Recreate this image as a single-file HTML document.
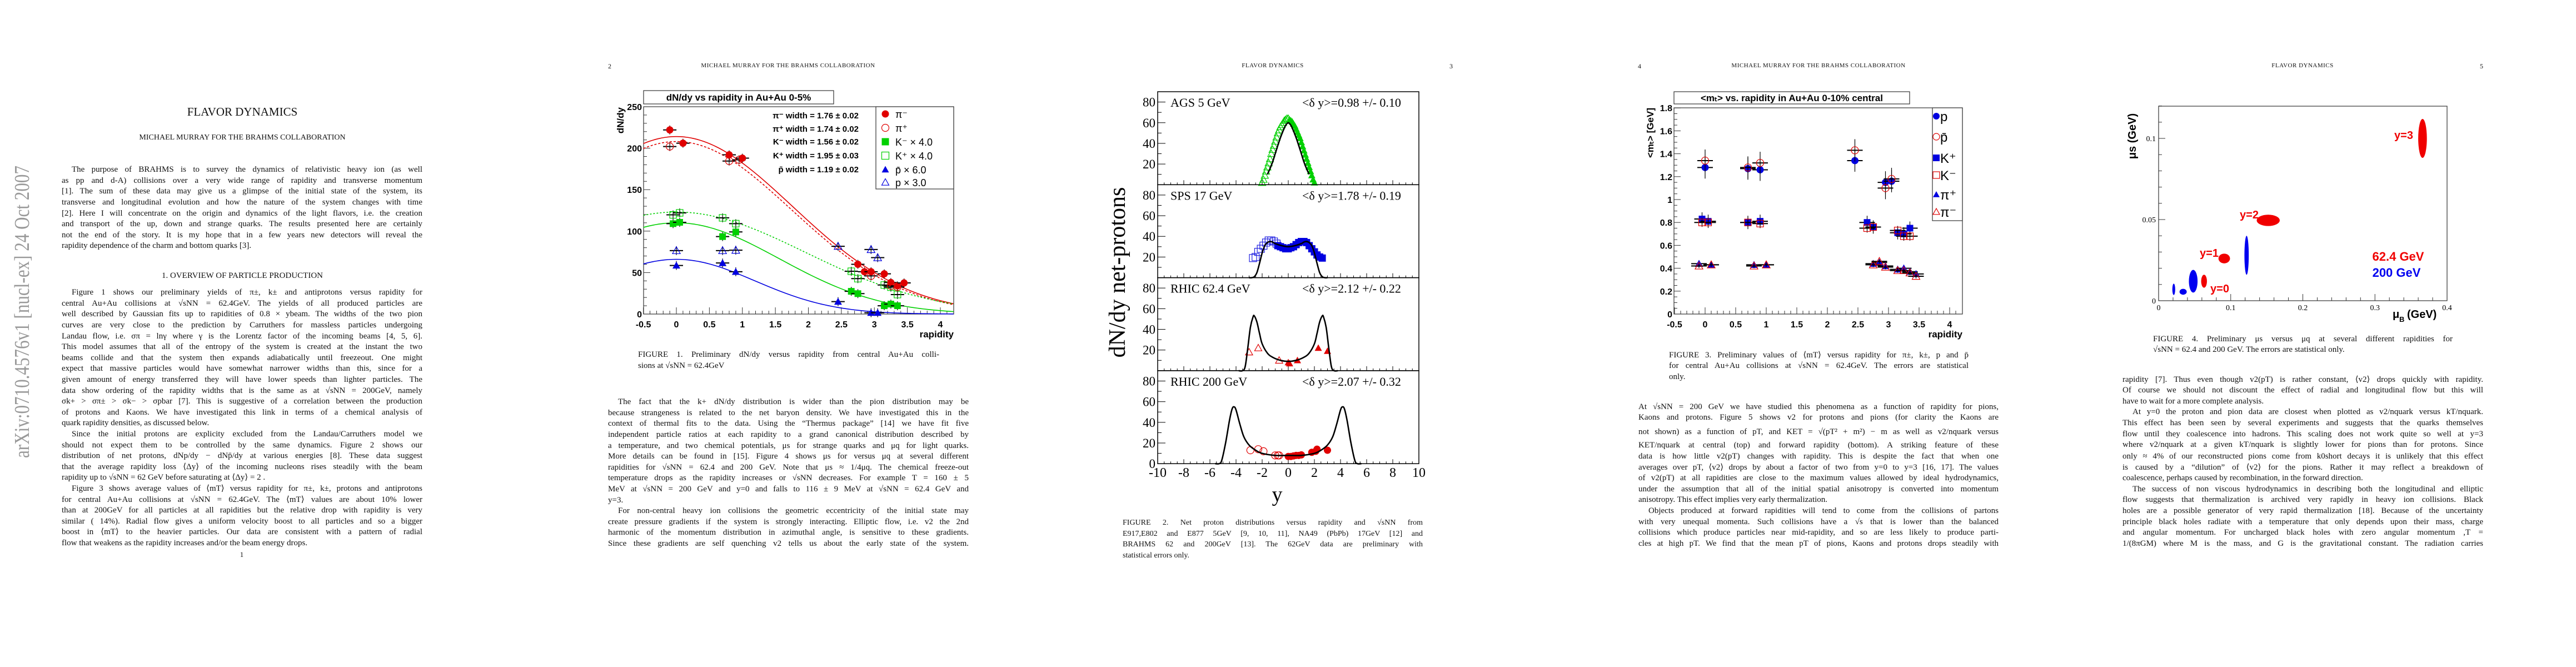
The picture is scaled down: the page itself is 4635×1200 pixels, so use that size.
<!DOCTYPE html>
<html><head><meta charset="utf-8">
<style>
html,body{margin:0;padding:0;background:#fff;}
body{width:4635px;height:1200px;position:relative;overflow:hidden;font-family:"Liberation Serif",serif;color:#111;}
.ln{position:absolute;height:19.6px;line-height:19.6px;font-size:15px;white-space:nowrap;text-align:justify;text-align-last:justify;}
.ln.last{text-align-last:left;}
.hd{position:absolute;font-size:11px;letter-spacing:0.5px;transform:translateX(-50%);white-space:nowrap;}
svg text:not([font-family]){font-family:"Liberation Sans",sans-serif;}
</style></head>
<body>
<svg id="sv" width="4635" height="1200" style="position:absolute;left:0;top:0" xmlns="http://www.w3.org/2000/svg"></svg>
<div id="tx"></div>
<script>
// ================= DATA =================
// Figure 1: dN/dy vs rapidity
const f1PiMinusX=[-0.1,0.1,0.8,1.0,2.75,2.85,2.95,3.15,3.25,3.35,3.45];
const f1PiMinusY=[222,206,192,188,60,51,51,48.5,38,34,37.5];
const f1PiPlusX=[-0.1,0.8,0.95,2.95,3.25,3.35];
const f1PiPlusY=[202,184.5,186,46,34,32.5];
const f1KMinusX=[-0.05,0.05,0.7,0.9,2.65,2.75,3.15,3.25,3.35];
const f1KMinusY=[109,110.6,93.4,99,27.4,24.6,10,12,10];
const f1KPlusX=[-0.05,0.05,0.7,0.9,2.65,2.75,3.15,3.25,3.35];
const f1KPlusY=[119.6,122,116,109,51.6,42.7,35,32.4,23.5];
const f1PbarX=[0,0.7,0.9,2.45,2.95,3.05];
const f1PbarY=[58.6,61.6,51,15,1.6,1.6];
const f1PX=[0,0.7,0.9,2.45,2.95,3.05];
const f1PY=[76.5,76.5,77,81.7,77.8,68];
const f1FitAmp=[214,208,110,123,66];
const f1FitWidth=[1.76,1.74,1.56,1.95,1.19];
const f1YTicks=[0,50,100,150,200,250];
const f1XTicks=[-0.5,0,0.5,1,1.5,2,2.5,3,3.5,4];
const f1XTickLabels=["-0.5","0","0.5","1","1.5","2","2.5","3","3.5","4"];
const f1WidthLabels=["π⁻ width = 1.76 ± 0.02","π⁺ width = 1.74 ± 0.02","K⁻ width = 1.56 ± 0.02","K⁺ width = 1.95 ± 0.03","p̄ width = 1.19 ± 0.02"];
// Figure 2: net protons
const f2Panels=["AGS 5 GeV","SPS 17 GeV","RHIC 62.4 GeV","RHIC 200 GeV"];
const f2DeltaY=["<δ y>=0.98 +/- 0.10","<δ y>=1.78 +/- 0.19","<δ y>=2.12 +/- 0.22","<δ y>=2.07 +/- 0.32"];
const f2AgsOpenX=[-2.0,-1.9,-1.8,-1.7,-1.6,-1.5,-1.4,-1.3,-1.2,-1.1,-1.0,-0.9,-0.8,-0.7,-0.6,-0.5,-0.4,-0.3,-0.2,-0.1,0];
const f2AgsOpenY=[2,5,9,13,17,21,25,30,34,38,42,46,50,53,56,58,60,62,63,64,64];
const f2AgsFillX=[0.1,0.2,0.3,0.4,0.5,0.6,0.7,0.8,0.9,1.0,1.1,1.2,1.3,1.4,1.5,1.6,1.7,1.8,1.9,2.0];
const f2AgsFillY=[63,62,61,59,57,54,51,48,45,41,37,33,29,25,21,17,13,9,5,2];
const f2AgsFitX=[-1.6,-1.4,-1.2,-1,-0.8,-0.6,-0.4,-0.2,0,0.2,0.4,0.6,0.8,1,1.2,1.4,1.6];
const f2AgsFitY=[10,15.5,22,30,38,45.5,52,57.5,60,57.5,52,45.5,38,30,22,15.5,10];
const f2SpsOpenX=[-2.7,-2.5,-2.3,-2.1,-1.9,-1.7,-1.5,-1.3,-1.1,-0.9];
const f2SpsOpenY=[19,20,25,28,31,34,36,36,35,33];
const f2SpsFillX=[-0.8,-0.6,-0.4,-0.2,0,0.2,0.4,0.6,0.8,1.0,1.2,1.4,1.6,1.8,2.0,2.2,2.4,2.6];
const f2SpsFillY=[31,30,29,28,28,29,30,32,34,35,35,34,31,28,25,22,20,19];
const f2SpsFitX=[-3,-2.8,-2.6,-2.4,-2.2,-2,-1.8,-1.6,-1.4,-1.2,-1,-0.5,0,0.5,1,1.2,1.4,1.6,1.8,2,2.2,2.4,2.6,2.8,3];
const f2SpsFitY=[0,0,1,5,14,24,31,34,35,34.5,33,31,30,31,33,34.5,35,34,31,24,14,5,1,0,0];
const f2R62OpenX=[-3.0,-2.3,-0.7];
const f2R62OpenY=[18,22,10];
const f2R62FillX=[0,0.1,0.7,2.3,3.0];
const f2R62FillY=[8,7,10,22,19];
const f2R62FitX=[-3.8,-3.5,-3.3,-3.1,-2.9,-2.7,-2.6,-2.4,-2.2,-2,-1.6,-1.2,-0.6,0,0.6,1.2,1.6,2,2.2,2.4,2.6,2.7,2.9,3.1,3.3,3.5,3.8];
const f2R62FitY=[0,0,4,22,42,52,53,47,36,26,17,13,10,9,10,13,17,26,36,47,53,52,42,22,4,0,0];
const f2R200OpenX=[-2.9,-2.3,-1.9,-1.0,-0.8,-0.7];
const f2R200OpenY=[13,14,12,8,8,8];
const f2R200FillX=[0,0.2,0.4,0.6,0.8,1.0,1.8,2.1,2.2,3.0];
const f2R200FillY=[7,7,7.5,8,8,8.5,11,12,14,13];
const f2R200FitX=[-5.6,-5.3,-5.1,-4.8,-4.5,-4.3,-4.15,-4,-3.7,-3.4,-3,-2.5,-2,-1,0,1,2,2.5,3,3.4,3.7,4,4.15,4.3,4.5,4.8,5.1,5.3,5.6];
const f2R200FitY=[0,0,3,20,42,53,55,52,38,26,18,13,10,8,8,8,10,13,18,26,38,52,55,53,42,20,3,0,0];
const f2YTicks=[20,40,60,80];
const f2XTicks=[-10,-8,-6,-4,-2,0,2,4,6,8,10];
// Figure 3: <mt> vs rapidity
const f3PX=[0,0.7,0.9,2.45,2.95,3.05];
const f3PY=[1.28,1.27,1.26,1.34,1.15,1.16];
const f3PbarX=[0,0.7,0.9,2.45,2.95,3.05];
const f3PbarY=[1.34,1.28,1.32,1.43,1.10,1.18];
const f3KPlusX=[-0.05,0.05,0.7,0.9,2.65,2.75,3.15,3.25,3.35];
const f3KPlusY=[0.83,0.81,0.80,0.81,0.80,0.76,0.71,0.70,0.75];
const f3KMinusX=[-0.05,0.05,0.7,0.9,2.65,2.75,3.15,3.25,3.35];
const f3KMinusY=[0.80,0.80,0.80,0.79,0.75,0.76,0.73,0.68,0.68];
const f3PiPlusX=[-0.1,0.1,0.8,1.0,2.75,2.85,2.95,3.15,3.25,3.35,3.45];
const f3PiPlusY=[0.44,0.43,0.43,0.43,0.44,0.45,0.42,0.39,0.40,0.37,0.35];
const f3PiMinusX=[-0.1,0.1,0.8,1.0,2.75,2.85,2.95,3.15,3.25,3.35,3.45];
const f3PiMinusY=[0.42,0.43,0.42,0.43,0.43,0.46,0.41,0.38,0.38,0.36,0.33];
const f3YTicks=[0,0.2,0.4,0.6,0.8,1,1.2,1.4,1.6,1.8];
const f3YTickLabels=["0","0.2","0.4","0.6","0.8","1","1.2","1.4","1.6","1.8"];
// Figure 4: mu_s vs mu_B ellipses
const f4RedCx=[0.366,0.152,0.091,0.063];
const f4RedCy=[0.100,0.0495,0.026,0.012];
const f4RedRx=[0.006,0.016,0.008,0.004];
const f4RedRy=[0.012,0.0035,0.003,0.004];
const f4BlueCx=[0.122,0.048,0.034,0.021];
const f4BlueCy=[0.028,0.012,0.0055,0.007];
const f4BlueRx=[0.003,0.006,0.005,0.002];
const f4BlueRy=[0.012,0.007,0.0018,0.0035];
const f4XTicks=[0,0.1,0.2,0.3,0.4];
const f4YTicks=[0,0.05,0.1];
const f4YTickLabels=["0","0.05","0.1"];

// ================= HELPERS =================
const NS="http://www.w3.org/2000/svg";
const sv=document.getElementById('sv');
function mk(tag,attrs,parent){const e=document.createElementNS(NS,tag);for(const k in attrs)e.setAttribute(k,attrs[k]);(parent||sv).appendChild(e);return e;}
function txt(s,x,y,attrs,parent){const e=mk('text',Object.assign({x:x,y:y},attrs||{}),parent);e.textContent=s;return e;}
function grp(parent){return mk('g',{},parent);}
function smoothPath(pts){let d="M"+pts[0][0]+","+pts[0][1];for(let i=0;i<pts.length-1;i++){const p0=pts[Math.max(0,i-1)],p1=pts[i],p2=pts[i+1],p3=pts[Math.min(pts.length-1,i+2)];const c1=[p1[0]+(p2[0]-p0[0])/6,p1[1]+(p2[1]-p0[1])/6],c2=[p2[0]-(p3[0]-p1[0])/6,p2[1]-(p3[1]-p1[1])/6];d+=" C"+c1[0]+","+c1[1]+" "+c2[0]+","+c2[1]+" "+p2[0]+","+p2[1];}return d;}
function marker(g,type,x,y,col,s){
  let e;
  if(type==='fc')e=mk('circle',{cx:x,cy:y,r:s,fill:col},g);
  else if(type==='oc')e=mk('circle',{cx:x,cy:y,r:s,fill:'none',stroke:col,'stroke-width':1.2},g);
  else if(type==='fs')e=mk('rect',{x:x-s,y:y-s,width:2*s,height:2*s,fill:col},g);
  else if(type==='os')e=mk('rect',{x:x-s,y:y-s,width:2*s,height:2*s,fill:'none',stroke:col,'stroke-width':1.2},g);
  else if(type==='ft')e=mk('polygon',{points:(x)+","+(y-s)+" "+(x-s)+","+(y+s*0.8)+" "+(x+s)+","+(y+s*0.8),fill:col},g);
  else e=mk('polygon',{points:(x)+","+(y-s)+" "+(x-s)+","+(y+s*0.8)+" "+(x+s)+","+(y+s*0.8),fill:'none',stroke:col,'stroke-width':1.2},g);
  return e;
}
function errbar(g,x,y,hw,vh){mk('line',{x1:x-hw,y1:y,x2:x+hw,y2:y,stroke:'#000','stroke-width':2},g);mk('line',{x1:x,y1:y-vh,x2:x,y2:y+vh,stroke:'#000','stroke-width':1.2},g);}

// ================= FIGURE 1 =================
(function(){
const X=v=>1217+118.75*v, Y=v=>565-1.492*v;
const g=grp();
const tb=mk('rect',{x:1158,y:163,width:342,height:24,fill:'#fff',stroke:'#333','stroke-width':1.2},g);

const tt=txt("dN/dy vs rapidity in Au+Au 0-5%",1329,181,{'text-anchor':'middle','font-size':17,'font-weight':'bold'},g);

const fr=mk('rect',{x:1158,y:192,width:558,height:373,fill:'none',stroke:'#333','stroke-width':1.2},g);

for(let v=0;v<=250;v+=10){const t=mk('line',{x1:1158,y1:Y(v),x2:1158+(v%50===0?12:6),y2:Y(v),stroke:'#333'},g);}
f1YTicks.forEach(v=>{const t=txt(String(v),1155,Y(v)+6,{'text-anchor':'end','font-size':16,'font-weight':'bold'},g);});
for(let v=-0.5;v<=4.2;v+=0.1){const m=Math.abs(v*2-Math.round(v*2))<0.01;const t=mk('line',{x1:X(v),y1:565,x2:X(v),y2:565-(m?12:6),stroke:'#333'},g);}
f1XTicks.forEach((v,i)=>{const t=txt(f1XTickLabels[i],X(v),589,{'text-anchor':'middle','font-size':16,'font-weight':'bold'},g);});
const xl=txt("rapidity",1716,607,{'text-anchor':'end','font-size':17,'font-weight':'bold'},g);
const yl=txt("dN/dy",1122,193,{'text-anchor':'end','font-size':17,'font-weight':'bold',transform:'rotate(-90 1122 193)'},g);
const cols=['#e00000','#e00000','#00d000','#00d000','#0000e0'];const dash=['none','4,3','none','3,3','none'];
f1FitAmp.forEach((A,i)=>{const pts=[];for(let v=-0.5;v<=4.2;v+=0.05)pts.push([X(v),Y(A*Math.exp(-v*v/(2*f1FitWidth[i]*f1FitWidth[i])))]);
 const p=mk('path',{d:smoothPath(pts),fill:'none',stroke:cols[i],'stroke-width':1.6,'stroke-dasharray':dash[i]},g);});
function series(xs,ys,type,col,s,name){xs.forEach((x,i)=>{errbar(g,X(x),Y(ys[i]),12,8);const m=marker(g,type,X(x),Y(ys[i]),col,s);});}
series(f1PX,f1PY,'ot','#0000e0',7,'point-p');
series(f1PbarX,f1PbarY,'ft','#0000e0',7,'point-pbar');
series(f1KPlusX,f1KPlusY,'os','#00d000',6,'point-kplus');
series(f1KMinusX,f1KMinusY,'fs','#00d000',6,'point-kminus');
series(f1PiPlusX,f1PiPlusY,'oc','#e00000',6.5,'point-piplus');
series(f1PiMinusX,f1PiMinusY,'fc','#e00000',6.5,'point-piminus');
const wy=[207,231,254,279,304];
f1WidthLabels.forEach((s,i)=>{const t=txt(s,1545,wy[i]+6,{'text-anchor':'end','font-size':15,'font-weight':'bold'},g);});
const lb=mk('rect',{x:1576,y:192,width:140,height:148,fill:'#fff',stroke:'#333','stroke-width':1.2},g);
const lt=['fc','oc','fs','os','ft','ot'],lc=['#e00000','#e00000','#00d000','#00d000','#0000e0','#0000e0'],ls=["π⁻","π⁺","K⁻ × 4.0","K⁺ × 4.0","p̄ × 6.0","p × 3.0"],ly=[205,230,255,280,305,328];
ls.forEach((s,i)=>{const m=marker(g,lt[i],1593,ly[i],lc[i],6.5);const t=txt(s,1611,ly[i]+7,{'font-size':18},g);});
})();

// ================= FIGURE 2 =================
(function(){
const X=v=>2318+23.5*v; const PH=167.3; const top0=165;
const g=grp();
const sets=[
 [[f2AgsOpenX,f2AgsOpenY,'ot','#00d000'],[f2AgsFillX,f2AgsFillY,'ft','#00d000'],[f2AgsFitX,f2AgsFitY]],
 [[f2SpsOpenX,f2SpsOpenY,'os','#2020e0'],[f2SpsFillX,f2SpsFillY,'fs','#0000e0'],[f2SpsFitX,f2SpsFitY]],
 [[f2R62OpenX,f2R62OpenY,'ot','#e00000'],[f2R62FillX,f2R62FillY,'ft','#e00000'],[f2R62FitX,f2R62FitY]],
 [[f2R200OpenX,f2R200OpenY,'oc','#e00000'],[f2R200FillX,f2R200FillY,'fc','#e00000'],[f2R200FitX,f2R200FitY]]];
f2Panels.forEach((name,p)=>{
 const t0=top0+PH*p, b=t0+PH; const Y=v=>b-v*PH/90;
 const fr=mk('rect',{x:2083,y:t0,width:470,height:PH,fill:'none',stroke:'#000','stroke-width':1.5},g);
 for(let v=0;v<=90;v+=10){const t=mk('line',{x1:2083,y1:Y(v),x2:2083+(v%20===0?14:7),y2:Y(v),stroke:'#000'},g);}
 for(let v=-10;v<=10;v+=0.5){const m=v%2===0;const t=mk('line',{x1:X(v),y1:b,x2:X(v),y2:b-(m?8:4),stroke:'#000'},g);}
 f2YTicks.forEach(v=>{const t=txt(String(v),2079,Y(v)+8,{'text-anchor':'end','font-size':23,'font-family':'Liberation Serif'},g);});
 const pl=txt(name,2106,t0+27,{'font-size':22,'font-family':'Liberation Serif'},g);
 const dl=txt(f2DeltaY[p],2343,t0+27,{'font-size':22,'font-family':'Liberation Serif'},g);
 const S=sets[p];
 [S[0],S[1]].forEach((s,k)=>{s[0].forEach((x,i)=>{const m=marker(g,s[2],X(x),Y(s[1][i]),s[3],6.5);});});
 const pts=S[2][0].map((x,i)=>[X(x),Y(S[2][1][i])]);
 const c=mk('path',{d:smoothPath(pts),fill:'none',stroke:'#000','stroke-width':2.6},g);
});
const z=txt("0",2079,842,{'text-anchor':'end','font-size':23,'font-family':'Liberation Serif'},g);
f2XTicks.forEach(v=>{const t=txt(String(v),X(v),858,{'text-anchor':'middle','font-size':24,'font-family':'Liberation Serif'},g);});
const xl=txt("y",2298,902,{'text-anchor':'middle','font-size':38,'font-family':'Liberation Serif'},g);
const yl=txt("dN/dy net-protons",2024,490,{'text-anchor':'middle','font-size':42,'font-family':'Liberation Serif',transform:'rotate(-90 2024 490)'},g);
})();

// ================= FIGURE 3 =================
(function(){
const X=v=>3068+110*v, Y=v=>565-206*v;
const g=grp();
const tb=mk('rect',{x:3012,y:165,width:424,height:22,fill:'#fff',stroke:'#333','stroke-width':1.2},g);
const tt=txt("<mₜ> vs. rapidity in Au+Au 0-10% central",3224,182,{'text-anchor':'middle','font-size':17,'font-weight':'bold'},g);
const fr=mk('rect',{x:3012,y:194,width:519,height:371,fill:'none',stroke:'#333','stroke-width':1.2},g);
for(let i=0;i<=36;i++){const v=i*0.05;const t=mk('line',{x1:3012,y1:Y(v),x2:3012+(i%4===0?12:6),y2:Y(v),stroke:'#333'},g);}
f3YTicks.forEach((v,i)=>{const t=txt(f3YTickLabels[i],3009,Y(v)+6,{'text-anchor':'end','font-size':16,'font-weight':'bold'},g);});
for(let v=-0.5;v<=4.2;v+=0.1){const m=Math.abs(v*2-Math.round(v*2))<0.01;const t=mk('line',{x1:X(v),y1:565,x2:X(v),y2:565-(m?12:6),stroke:'#333'},g);}
f1XTicks.forEach((v,i)=>{const t=txt(f1XTickLabels[i],X(v),589,{'text-anchor':'middle','font-size':16,'font-weight':'bold'},g);});
const xl=txt("rapidity",3531,607,{'text-anchor':'end','font-size':17,'font-weight':'bold'},g);
const yl=txt("<mₜ> [GeV]",2975,194,{'text-anchor':'end','font-size':17,'font-weight':'bold',transform:'rotate(-90 2975 194)'},g);
function series(xs,ys,type,col,s,name,ev){xs.forEach((x,i)=>{errbar(g,X(x),Y(ys[i]),14,ev);const m=marker(g,type,X(x),Y(ys[i]),col,s);});}
series(f3PX,f3PY,'fc','#0000e0',6.5,'point-p',20);
series(f3PbarX,f3PbarY,'oc','#e00000',6.5,'point-pbar',20);
series(f3KPlusX,f3KPlusY,'fs','#0000e0',6,'point-kplus',12);
series(f3KMinusX,f3KMinusY,'os','#e00000',6,'point-kminus',8);
series(f3PiPlusX,f3PiPlusY,'ft','#0000e0',7,'point-piplus',4);
series(f3PiMinusX,f3PiMinusY,'ot','#e00000',7,'point-piminus',4);
const lb=mk('rect',{x:3477,y:194,width:54,height:203,fill:'#fff',stroke:'#333','stroke-width':1.2},g);
const lt=['fc','oc','fs','os','ft','ot'],lc=['#0000e0','#e00000','#0000e0','#e00000','#0000e0','#e00000'],ls=["p","p̄","K⁺","K⁻","π⁺","π⁻"],ly=[209,246,284,315,350,381];
ls.forEach((s,i)=>{const m=marker(g,lt[i],3484,ly[i],lc[i],6);const t=txt(s,3491,ly[i]+9,{'font-size':24},g);});
})();

// ================= FIGURE 4 =================
(function(){
const X=v=>3884+1297.5*v, Y=v=>541-2920*v;
const g=grp();
const fr=mk('rect',{x:3884,y:191,width:519,height:350,fill:'none',stroke:'#333','stroke-width':1.2},g);
for(let i=0;i<=12;i++){const v=i*0.01;const t=mk('line',{x1:3884,y1:Y(v),x2:3884+(i%5===0?12:6),y2:Y(v),stroke:'#333'},g);}
for(let i=0;i<=20;i++){const v=i*0.02;const t=mk('line',{x1:X(v),y1:541,x2:X(v),y2:541-(i%5===0?12:6),stroke:'#333'},g);}
f4YTicks.forEach((v,i)=>{const t=txt(f4YTickLabels[i],3879,Y(v)+5,{'text-anchor':'end','font-size':14,'font-family':'Liberation Serif'},g);});
f4XTicks.forEach(v=>{const t=txt(String(v),X(v),558,{'text-anchor':'middle','font-size':14,'font-family':'Liberation Serif'},g);});
const xl=txt("μ",4305,572,{'font-size':20,'font-weight':'bold'},g);
const xl2=txt("B",4317,579,{'font-size':13,'font-weight':'bold'},g);
const xl3=txt("(GeV)",4331,572,{'font-size':20,'font-weight':'bold'},g);
const yl=txt("μs (GeV)",3843,245,{'text-anchor':'middle','font-size':20,'font-weight':'bold',transform:'rotate(-90 3843 245)'},g);
f4RedCx.forEach((cx,i)=>{const e=mk('ellipse',{cx:X(cx),cy:Y(f4RedCy[i]),rx:f4RedRx[i]*1297.5,ry:f4RedRy[i]*2920,fill:'#f00000'},g);});
f4BlueCx.forEach((cx,i)=>{const e=mk('ellipse',{cx:X(cx),cy:Y(f4BlueCy[i]),rx:f4BlueRx[i]*1297.5,ry:f4BlueRy[i]*2920,fill:'#0000f0'},g);});
const ann=[["y=3",4325,250],["y=2",4047,393],["y=1",3975,462],["y=0",3994,526]];
ann.forEach(a=>{const t=txt(a[0],a[1],a[2],{'text-anchor':'middle','font-size':20,'font-weight':'bold',fill:'#f00000'},g);});
const l1=txt("62.4 GeV",4315,469,{'text-anchor':'middle','font-size':22,'font-weight':'bold',fill:'#f00000'},g);
const l2=txt("200 GeV",4312,498,{'text-anchor':'middle','font-size':22,'font-weight':'bold',fill:'#0000f0'},g);
})();

// arXiv sidebar
(function(){
const t=txt("arXiv:0710.4576v1  [nucl-ex]  24 Oct 2007",52,824,{'font-size':38,'font-family':'Liberation Serif',fill:'#999',textLength:526,lengthAdjust:'spacingAndGlyphs',transform:'rotate(-90 52 824)'});


})();

// ================= TEXT =================
const tx=document.getElementById('tx');
function block(name,x,w,tops,lines,fs){
  const d=document.createElement('div');
  
  
  tx.appendChild(d);
  lines.forEach((s,i)=>{
    const e=document.createElement('div');
    
    
    let ind=0,last=false;
    if(s[0]==='^'){ind=18;s=s.slice(1);}
    if(s[s.length-1]==='$'){last=true;s=s.slice(0,-1);}
    e.className='ln'+(last?' last':'');
    e.style.left=(x+ind)+'px';e.style.width=(w-ind)+'px';
    e.style.top=(tops[i]-9.8)+'px';
    if(fs)e.style.fontSize=fs+'px';
    e.textContent=s;d.appendChild(e);
  });
}
function seq(y0,n,dy){const a=[];for(let i=0;i<n;i++)a.push(y0+i*dy);return a;}
function center(name,s,x,y,fs,extra){const e=document.createElement('div');e.className='hd';e.style.left=x+'px';e.style.top=(y-fs*0.6)+'px';e.style.fontSize=fs+'px';if(extra)e.style.cssText+=extra;e.textContent=s;tx.appendChild(e);}

center('paper-title',"FLAVOR DYNAMICS",436,202,21,'letter-spacing:0;font-weight:normal;');
center('author-line',"MICHAEL MURRAY FOR THE BRAHMS COLLABORATION",436,248,14,'letter-spacing:0;');
block('abstract',111,649,seq(306,8,19.6),[
"^The purpose of BRAHMS is to survey the dynamics of relativistic heavy ion (as well",
"as pp and d-A) collisions over a very wide range of rapidity and transverse momentum",
"[1]. The sum of these data may give us a glimpse of the initial state of the system, its",
"transverse and longitudinal evolution and how the nature of the system changes with time",
"[2]. Here I will concentrate on the origin and dynamics of the light flavors, i.e. the creation",
"and transport of the up, down and strange quarks. The results presented here are certainly",
"not the end of the story. It is my hope that in a few years new detectors will reveal the",
"rapidity dependence of the charm and bottom quarks [3].$"]);
center('section-heading',"1. OVERVIEW OF PARTICLE PRODUCTION",436,497,15,'letter-spacing:0;font-variant:small-caps;');
block('page1-body',111,649,seq(527,24,19.6),[
"^Figure 1 shows our preliminary yields of π±, k± and antiprotons versus rapidity for",
"central Au+Au collisions at √sNN = 62.4GeV. The yields of all produced particles are",
"well described by Gaussian fits up to rapidities of 0.8 × ybeam. The widths of the two pion",
"curves are very close to the prediction by Carruthers for massless particles undergoing",
"Landau flow, i.e. σπ = lnγ where γ is the Lorentz factor of the incoming beams [4, 5, 6].",
"This model assumes that all of the entropy of the system is created at the instant the two",
"beams collide and that the system then expands adiabatically until freezeout. One might",
"expect that massive particles would have somewhat narrower widths than this, since for a",
"given amount of energy transferred they will have lower speeds than lighter particles. The",
"data show ordering of the rapidity widths that is the same as at √sNN = 200GeV, namely",
"σk+ > σπ± > σk− > σpbar [7]. This is suggestive of a correlation between the production",
"of protons and Kaons. We have investigated this link in terms of a chemical analysis of",
"quark rapidity densities, as discussed below.$",
"^Since the initial protons are explicity excluded from the Landau/Carruthers model we",
"should not expect them to be controlled by the same dynamics. Figure 2 shows our",
"distribution of net protons, dNp/dy − dNp̄/dy at various energies [8]. These data suggest",
"that the average rapidity loss ⟨Δy⟩ of the incoming nucleons rises steadily with the beam",
"rapidity up to √sNN = 62 GeV before saturating at ⟨Δy⟩ = 2 .$",
"^Figure 3 shows average values of ⟨mT⟩ versus rapidity for π±, k±, protons and antiprotons",
"for central Au+Au collisions at √sNN = 62.4GeV. The ⟨mT⟩ values are about 10% lower",
"than at 200GeV for all particles at all rapidities but the relative drop with rapidity is very",
"similar ( 14%). Radial flow gives a uniform velocity boost to all particles and so a bigger",
"boost in ⟨mT⟩ to the heavier particles. Our data are consistent with a pattern of radial",
"flow that weakens as the rapidity increases and/or the beam energy drops.$"]);
center('page-number-1',"1",435,998,13,'letter-spacing:0;');

center('page-number-2',"2",1097,119,12,'letter-spacing:0;');
center('running-header-2',"MICHAEL MURRAY FOR THE BRAHMS COLLABORATION",1418,119,11);
block('figure1-caption',1148,542,seq(639,2,20),[
"FIGURE 1. Preliminary dN/dy versus rapidity from central Au+Au colli-",
"sions at √sNN = 62.4GeV$"]);
block('page2-body',1094,649,seq(724,14,19.6),[
"^The fact that the k+ dN/dy distribution is wider than the pion distribution may be",
"because strangeness is related to the net baryon density. We have investigated this in the",
"context of thermal fits to the data. Using the “Thermus package” [14] we have fit five",
"independent particle ratios at each rapidity to a grand canonical distribution described by",
"a temperature, and two chemical potentials, μs for strange quarks and μq for light quarks.",
"More details can be found in [15]. Figure 4 shows μs for versus μq at several different",
"rapidities for √sNN = 62.4 and 200 GeV. Note that μs ≈ 1/4μq. The chemical freeze-out",
"temperature drops as the rapidity increases or √sNN decreases. For example T = 160 ± 5",
"MeV at √sNN = 200 GeV and y=0 and falls to 116 ± 9 MeV at √sNN = 62.4 GeV and",
"y=3.$",
"^For non-central heavy ion collisions the geometric eccentricity of the initial state may",
"create pressure gradients if the system is strongly interacting. Elliptic flow, i.e. v2 the 2nd",
"harmonic of the momentum distribution in azimuthal angle, is sensitive to these gradients.",
"Since these gradients are self quenching v2 tells us about the early state of the system."]);

center('running-header-3',"FLAVOR DYNAMICS",2290,119,11);
center('page-number-3',"3",2611,119,12,'letter-spacing:0;');
block('figure2-caption',2020,540,seq(941,4,19.5),[
"FIGURE 2. Net proton distributions versus rapidity and √sNN from",
"E917,E802 and E877 5GeV [9, 10, 11], NA49 (PbPb) 17GeV [12] and",
"BRAHMS 62 and 200GeV [13]. The 62GeV data are preliminary with",
"statistical errors only.$"],14);

center('page-number-4',"4",2950,119,12,'letter-spacing:0;');
center('running-header-4',"MICHAEL MURRAY FOR THE BRAHMS COLLABORATION",3272,119,11);
block('figure3-caption',3003,539,[640,659,679],[
"FIGURE 3. Preliminary values of ⟨mT⟩ versus rapidity for π±, k±, p and p̄",
"for central Au+Au collisions at √sNN = 62.4GeV. The errors are statistical",
"only.$"]);
block('page4-body',2948,648,[733,752,778,802,822,842,861,881,900,920,940,959,979],[
"At √sNN = 200 GeV we have studied this phenomena as a function of rapidity for pions,",
"Kaons and protons. Figure 5 shows v2 for protons and pions (for clarity the Kaons are",
"not shown) as a function of pT, and KET = √(pT² + m²) − m as well as v2/nquark versus",
"KET/nquark at central (top) and forward rapidity (bottom). A striking feature of these",
"data is how little v2(pT) changes with rapidity. This is despite the fact that when one",
"averages over pT, ⟨v2⟩ drops by about a factor of two from y=0 to y=3 [16, 17]. The values",
"of v2(pT) at all rapidities are close to the maximum values allowed by ideal hydrodynamics,",
"under the assumption that all of the initial spatial anisotropy is converted into momentum",
"anisotropy. This effect implies very early thermalization.$",
"^Objects produced at forward rapidities will tend to come from the collisions of partons",
"with very unequal momenta. Such collisions have a √s that is lower than the balanced",
"collisions which produce particles near mid-rapidity, and so are less likely to produce parti-",
"cles at high pT. We find that the mean pT of pions, Kaons and protons drops steadily with"]);

center('running-header-5',"FLAVOR DYNAMICS",4143,119,11);
center('page-number-5',"5",4465,119,12,'letter-spacing:0;');
block('figure4-caption',3874,539,[611,630],[
"FIGURE 4. Preliminary μs versus μq at several different rapidities for",
"√sNN = 62.4 and 200 GeV. The errors are statistical only.$"]);
block('page5-body',3819,649,[684,703,723,742,762,782,801,822,842,861,881,900,920,940,959,979],[
"rapidity [7]. Thus even though v2(pT) is rather constant, ⟨v2⟩ drops quickly with rapidity.",
"Of course we should not discount the effect of radial and longitudinal flow but this will",
"have to wait for a more complete analysis.$",
"^At y=0 the proton and pion data are closest when plotted as v2/nquark versus kT/nquark.",
"This effect has been seen by several experiments and suggests that the quarks themselves",
"flow until they coalescence into hadrons. This scaling does not work quite so well at y=3",
"where v2/nquark at a given kT/nquark is slightly lower for pions than for protons. Since",
"only ≈ 4% of our reconstructed pions come from k0short decays it is unlikely that this effect",
"is caused by a “dilution” of ⟨v2⟩ for the pions. Rather it may reflect a breakdown of",
"coalescence, perhaps caused by recombination, in the forward direction.$",
"^The success of non viscous hydrodynamics in describing both the longitudinal and elliptic",
"flow suggests that thermalization is archived very rapidly in heavy ion collisions. Black",
"holes are a possible generator of very rapid thermalization [18]. Because of the uncertainty",
"principle black holes radiate with a temperature that only depends upon their mass, charge",
"and angular momentum. For uncharged black holes with zero angular momentum ,T =",
"1/(8πGM) where M is the mass, and G is the gravitational constant. The radiation carries"]);
</script>
</body></html>
